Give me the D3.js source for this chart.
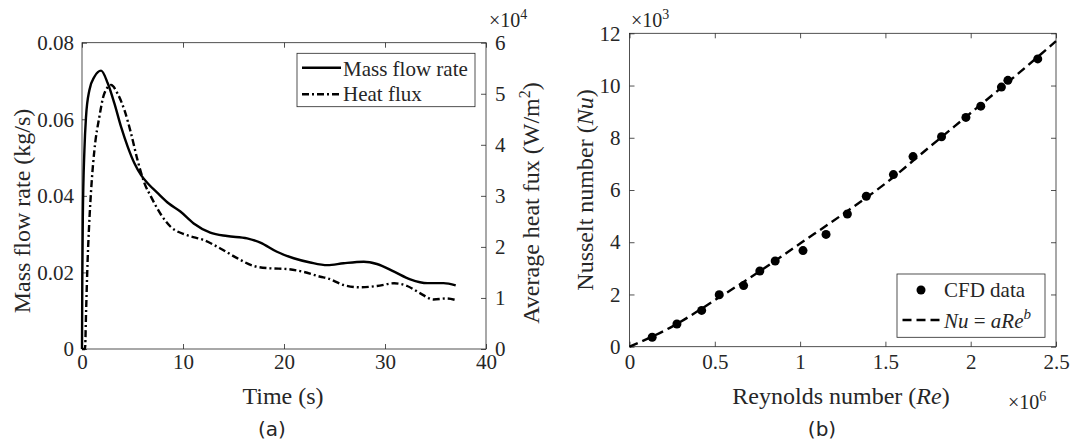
<!DOCTYPE html>
<html>
<head>
<meta charset="utf-8">
<script src="https://cdn.jsdelivr.net/npm/d3@7"></script>
<style>
body { margin: 0; background: #fff; }
</style>
</head>
<body>
<svg id="fig" width="1075" height="448"></svg>
<script>
// (a) mass flow rate and heat flux vs time
var timeMass = [0, 0.03, 0.08, 0.24, 0.4, 0.73, 1.23, 1.89, 2.55, 3.2, 3.87, 4.53, 5.19, 5.85, 6.5, 7.5, 8.6, 9.74, 11.06, 12.7, 14.37, 16.35, 17.66, 19.3, 20.96, 22.6, 24.3, 25.9, 27.9, 29.2, 30.9, 32.5, 34.2, 35.8, 37.0];
var massFlow = [0, 0.018, 0.034, 0.052, 0.0607, 0.0676, 0.0711, 0.0727, 0.0694, 0.0642, 0.058, 0.0528, 0.0485, 0.0454, 0.0433, 0.0407, 0.038, 0.0359, 0.0328, 0.0304, 0.0295, 0.0289, 0.0278, 0.0254, 0.0237, 0.0226, 0.0219, 0.0224, 0.0228, 0.0222, 0.0202, 0.0182, 0.0172, 0.0172, 0.0166];
var timeHeat = [0, 0.3, 0.4, 0.55, 0.7, 0.95, 1.23, 1.72, 2.2, 2.88, 3.53, 4.2, 4.86, 5.5, 6.18, 6.84, 7.83, 8.75, 10.4, 12.05, 13.7, 15.36, 17.0, 18.65, 20.3, 21.95, 23.6, 24.3, 25.9, 27.6, 29.2, 30.9, 32.2, 33.5, 34.8, 36.1, 37.0];
var heatFlux = [0, 0, 7000, 17000, 24000, 32500, 39000, 45500, 50000, 51700, 50000, 46800, 42200, 37000, 32500, 29800, 26300, 24000, 22300, 21350, 19700, 17800, 16260, 15800, 15670, 15100, 14160, 13850, 12540, 12080, 12340, 12870, 12340, 10900, 9700, 9900, 9600];
var timeTicks = [0, 10, 20, 30, 40];
var massTicks = [0, 0.02, 0.04, 0.06, 0.08];
var heatTicks = [0, 10000, 20000, 30000, 40000, 50000, 60000];

// (b) Nusselt vs Reynolds
var reynolds = [133000, 278000, 423000, 526000, 669000, 764000, 854000, 1017000, 1152000, 1277000, 1388000, 1547000, 1662000, 1829000, 1972000, 2059000, 2180000, 2218000, 2393000];
var nusselt = [360, 870, 1390, 1990, 2340, 2900, 3280, 3680, 4300, 5080, 5760, 6590, 7280, 8040, 8780, 9210, 9940, 10200, 11020];
var fitRe = [0, 250000, 500000, 750000, 1000000, 1250000, 1500000, 1750000, 2000000, 2250000, 2500000];
var fitNu = [0, 770, 1780, 2830, 3950, 5070, 6250, 7600, 8950, 10300, 11700];
var reTicks = [0, 500000, 1000000, 1500000, 2000000, 2500000];
var nuTicks = [0, 2000, 4000, 6000, 8000, 10000, 12000];

var serif = "Liberation Serif";
var svg = d3.select("#fig");
var axisColor = "#262626";

function styleAxis(g, size) {
  g.select(".domain").remove();
  g.selectAll("line").attr("stroke", axisColor).attr("stroke-width", 0.8);
  g.selectAll("text")
    .style("font-family", serif)
    .style("font-size", size + "px")
    .attr("fill", axisColor);
}

function label(x, y, size) {
  return svg.append("text").attr("x", x).attr("y", y)
    .style("font-family", serif).style("font-size", size + "px").attr("fill", axisColor);
}

function sup(t, base, s) {
  t.append("tspan").text(base);
  t.append("tspan").attr("dy", -8).style("font-size", "14px").text(s);
}

// ---------- panel (a) ----------
var ax = {left: 82, right: 486, top: 42.7, bottom: 349};
var xT = d3.scaleLinear().domain([0, 40]).range([ax.left, ax.right]);
var yM = d3.scaleLinear().domain([0, 0.08]).range([ax.bottom, ax.top]);
var yH = d3.scaleLinear().domain([0, 60000]).range([ax.bottom, ax.top]);

svg.append("g").attr("transform", "translate(0," + ax.bottom + ")")
  .call(d3.axisBottom(xT).tickValues(timeTicks).tickSize(-5).tickSizeOuter(0).tickPadding(5.5))
  .call(styleAxis, 21);
svg.append("g").attr("transform", "translate(0," + ax.top + ")")
  .call(d3.axisTop(xT).tickValues(timeTicks).tickSize(-5).tickSizeOuter(0).tickFormat(""))
  .call(styleAxis, 21);
svg.append("g").attr("transform", "translate(" + ax.left + ",0)")
  .call(d3.axisLeft(yM).tickValues(massTicks).tickSize(-5).tickSizeOuter(0).tickPadding(8)
    .tickFormat(function(d) { return d === 0 ? "0" : d3.format(".2f")(d); }))
  .call(styleAxis, 21);
svg.append("g").attr("transform", "translate(" + ax.right + ",0)")
  .call(d3.axisRight(yH).tickValues(heatTicks).tickSize(-5).tickSizeOuter(0).tickPadding(9)
    .tickFormat(function(d) { return d / 10000; }))
  .call(styleAxis, 21);

svg.append("rect")
  .attr("x", ax.left).attr("y", ax.top)
  .attr("width", ax.right - ax.left).attr("height", ax.bottom - ax.top)
  .attr("fill", "none").attr("stroke", axisColor).attr("stroke-width", 0.8);

var massLine = d3.line()
  .x(function(d, i) { return xT(timeMass[i]); })
  .y(function(d) { return yM(d); })
  .curve(d3.curveMonotoneX);
var heatLine = d3.line()
  .x(function(d, i) { return xT(timeHeat[i]); })
  .y(function(d) { return yH(d); })
  .curve(d3.curveMonotoneX);

svg.append("path").datum(heatFlux).attr("d", heatLine)
  .attr("fill", "none").attr("stroke", "#000").attr("stroke-width", 2.4)
  .attr("stroke-dasharray", "7,3,2,3");
svg.append("path").datum(massFlow).attr("d", massLine)
  .attr("fill", "none").attr("stroke", "#000").attr("stroke-width", 2.4);

// legend (a)
var lg = svg.append("g");
lg.append("rect").attr("x", 297).attr("y", 53.3).attr("width", 178).attr("height", 53.4)
  .attr("fill", "#fff").attr("stroke", axisColor).attr("stroke-width", 0.8);
lg.append("line").attr("x1", 302).attr("x2", 341).attr("y1", 67.7).attr("y2", 67.7)
  .attr("stroke", "#000").attr("stroke-width", 2.4);
lg.append("line").attr("x1", 302).attr("x2", 341).attr("y1", 94.3).attr("y2", 94.3)
  .attr("stroke", "#000").attr("stroke-width", 2.4).attr("stroke-dasharray", "7,3,2,3");
label(343, 76, 21).text("Mass flow rate");
label(343, 100.5, 21).text("Heat flux");

// labels (a)
label(283, 404, 24).attr("text-anchor", "middle").text("Time (s)");
label(0, 0, 24).attr("x", null).attr("y", null)
  .attr("transform", "translate(30,211) rotate(-90)").attr("text-anchor", "middle")
  .text("Mass flow rate (kg/s)");
var rl = label(0, 0, 24).attr("x", null).attr("y", null)
  .attr("transform", "translate(539,203) rotate(-90)").attr("text-anchor", "middle");
rl.append("tspan").text("Average heat fux (W/m");
rl.append("tspan").attr("dy", -9).style("font-size", "16px").text("2");
rl.append("tspan").attr("dy", 9).text(")");
label(489, 27, 20).call(sup, "\u00d710", "4");
svg.append("text").attr("x", 272).attr("y", 436).attr("text-anchor", "middle").attr("fill", axisColor)
  .style("font-family", "DejaVu Sans").style("font-size", "20px").text("(a)");

// ---------- panel (b) ----------
var bx = {left: 629.5, right: 1056, top: 33.3, bottom: 346.7};
var xR = d3.scaleLinear().domain([0, 2500000]).range([bx.left, bx.right]);
var yN = d3.scaleLinear().domain([0, 12000]).range([bx.bottom, bx.top]);

svg.append("g").attr("transform", "translate(0," + bx.bottom + ")")
  .call(d3.axisBottom(xR).tickValues(reTicks).tickSize(-5).tickSizeOuter(0).tickPadding(7)
    .tickFormat(function(d) { return d / 1e6; }))
  .call(styleAxis, 21);
svg.append("g").attr("transform", "translate(0," + bx.top + ")")
  .call(d3.axisTop(xR).tickValues(reTicks).tickSize(-5).tickSizeOuter(0).tickFormat(""))
  .call(styleAxis, 21);
svg.append("g").attr("transform", "translate(" + bx.left + ",0)")
  .call(d3.axisLeft(yN).tickValues(nuTicks).tickSize(-5).tickSizeOuter(0).tickPadding(9)
    .tickFormat(function(d) { return d / 1000; }))
  .call(styleAxis, 21);
svg.append("g").attr("transform", "translate(" + bx.right + ",0)")
  .call(d3.axisRight(yN).tickValues(nuTicks).tickSize(-5).tickSizeOuter(0).tickFormat(""))
  .call(styleAxis, 21);

svg.append("rect")
  .attr("x", bx.left).attr("y", bx.top)
  .attr("width", bx.right - bx.left).attr("height", bx.bottom - bx.top)
  .attr("fill", "none").attr("stroke", axisColor).attr("stroke-width", 0.8);

var fitLine = d3.line()
  .x(function(d, i) { return xR(fitRe[i]); })
  .y(function(d) { return yN(d); })
  .curve(d3.curveMonotoneX);
svg.append("path").datum(fitNu).attr("d", fitLine)
  .attr("fill", "none").attr("stroke", "#000").attr("stroke-width", 2.4)
  .attr("stroke-dasharray", "9,5");

svg.selectAll("circle.cfd")
  .data(nusselt)
  .enter()
  .append("circle")
  .attr("class", "cfd")
  .attr("cx", function(d, i) { return xR(reynolds[i]); })
  .attr("cy", function(d) { return yN(d); })
  .attr("r", 4.5)
  .attr("fill", "#000");

// legend (b)
var lb = svg.append("g");
lb.append("rect").attr("x", 897).attr("y", 274).attr("width", 148).attr("height", 63.3)
  .attr("fill", "#fff").attr("stroke", axisColor).attr("stroke-width", 0.8);
lb.append("circle").attr("cx", 921).attr("cy", 290).attr("r", 4.5).attr("fill", "#000");
lb.append("line").attr("x1", 902.5).attr("x2", 941).attr("y1", 320).attr("y2", 320)
  .attr("stroke", "#000").attr("stroke-width", 2.4).attr("stroke-dasharray", "9,5");
label(944, 297, 21).text("CFD data");
var ft = label(944, 328, 21);
ft.append("tspan").style("font-style", "italic").text("Nu");
ft.append("tspan").text(" = ");
ft.append("tspan").style("font-style", "italic").text("aRe");
ft.append("tspan").attr("dy", -9).style("font-style", "italic").style("font-size", "15px").text("b");

// labels (b)
var xl = label(841, 404, 24).attr("text-anchor", "middle");
xl.append("tspan").text("Reynolds number (");
xl.append("tspan").style("font-style", "italic").text("Re");
xl.append("tspan").text(")");
var yl = label(0, 0, 24).attr("x", null).attr("y", null)
  .attr("transform", "translate(593,190) rotate(-90)").attr("text-anchor", "middle");
yl.append("tspan").text("Nusselt number (");
yl.append("tspan").style("font-style", "italic").text("Nu");
yl.append("tspan").text(")");
label(631, 27, 20).call(sup, "\u00d710", "3");
label(1008, 409, 20).call(sup, "\u00d710", "6");
svg.append("text").attr("x", 822).attr("y", 436).attr("text-anchor", "middle").attr("fill", axisColor)
  .style("font-family", "DejaVu Sans").style("font-size", "20px").text("(b)");
</script>
</body>
</html>
